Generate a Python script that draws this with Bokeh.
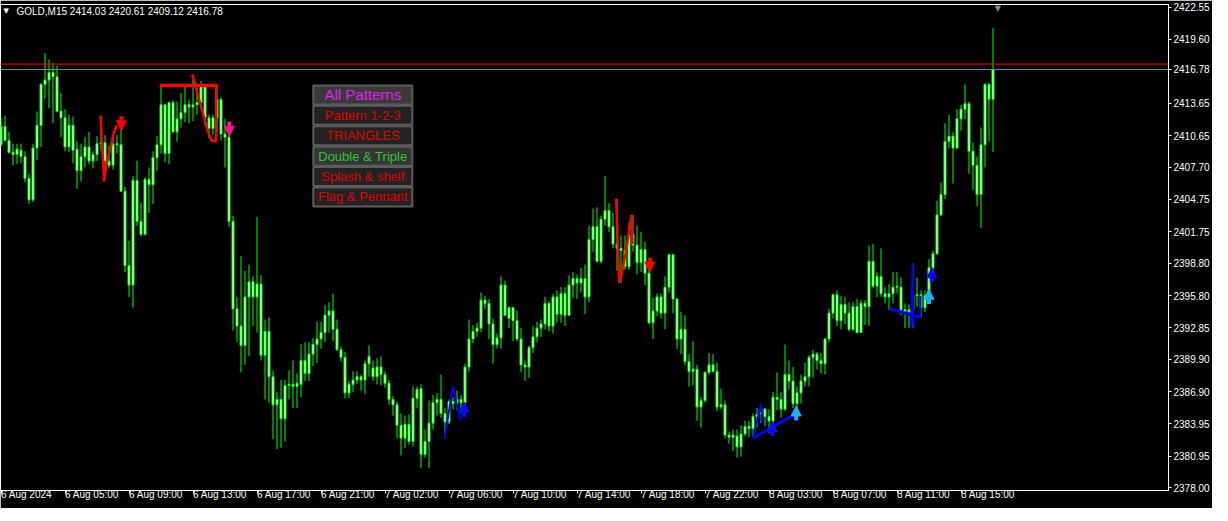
from bokeh.plotting import figure
from bokeh.models import (ColumnDataSource, FixedTicker, Span, Label, Arrow, NormalHead,
                          Range1d, PrintfTickFormatter)
from bokeh.embed import file_html
from bokeh.resources import INLINE
from bokeh.core.properties import value

# ---------------- data: GOLD M15, 249 bars starting 6 Aug 2024 01:00 ----------------
opens = [2409.8, 2411.5, 2410.2, 2409.1, 2408.9, 2409.3, 2408.7, 2406.7, 2404.7, 2409.5,
         2411.6, 2415.4, 2415.8, 2416.5, 2416.1, 2412.9, 2412.3, 2409.6, 2411.6, 2409.4,
         2407.4, 2408.7, 2409.6, 2408.3, 2408.9, 2409.9, 2410.0, 2408.3, 2407.9, 2409.9,
         2409.8, 2405.5, 2398.6, 2396.8, 2406.5, 2402.7, 2401.5, 2406.6, 2406.1, 2408.6,
         2409.8, 2413.5, 2409.0, 2413.7, 2411.0, 2412.2, 2412.8, 2413.5, 2413.3, 2413.5,
         2413.7, 2415.2, 2412.3, 2411.3, 2412.3, 2414.0, 2410.8, 2410.5, 2402.7, 2394.6,
         2393.0, 2391.2, 2395.7, 2397.1, 2395.7, 2396.9, 2390.3, 2392.5, 2388.3, 2385.7,
         2386.2, 2384.4, 2387.5, 2387.6, 2387.4, 2387.6, 2389.8, 2388.6, 2390.4, 2391.3,
         2391.8, 2392.4, 2394.0, 2394.4, 2392.7, 2390.8, 2390.1, 2386.8, 2387.6, 2388.0,
         2388.3, 2388.0, 2389.5, 2389.1, 2388.3, 2389.2, 2388.5, 2387.7, 2386.2, 2385.7,
         2383.8, 2382.6, 2383.9, 2382.3, 2386.3, 2387.2, 2381.1, 2382.3, 2384.0, 2385.9,
         2386.2, 2384.9, 2384.1, 2386.0, 2385.8, 2386.2, 2385.9, 2389.2, 2391.8, 2392.5,
         2392.8, 2395.4, 2395.1, 2393.2, 2391.3, 2391.9, 2396.8, 2393.7, 2394.7, 2393.5,
         2391.8, 2389.4, 2389.2, 2391.0, 2392.0, 2392.8, 2393.2, 2395.1, 2393.0, 2395.7,
         2394.1, 2396.0, 2394.0, 2396.8, 2397.4, 2397.0, 2397.4, 2395.7, 2401.0, 2402.2,
         2399.0, 2402.9, 2403.7, 2402.2, 2400.6, 2400.2, 2400.0, 2398.5, 2401.5, 2400.5,
         2398.9, 2400.1, 2397.9, 2393.3, 2394.4, 2395.7, 2394.2, 2396.6, 2399.6, 2395.5,
         2391.8, 2392.7, 2389.7, 2388.8, 2389.0, 2385.5, 2386.1, 2388.7, 2389.4, 2388.8,
         2385.5, 2385.7, 2382.9, 2382.7, 2382.8, 2381.8, 2383.0, 2383.7, 2383.5, 2384.6,
         2384.8, 2385.3, 2384.6, 2384.2, 2386.4, 2386.2, 2385.3, 2388.5, 2387.9, 2385.8,
         2386.8, 2387.9, 2388.3, 2390.1, 2390.4, 2389.8, 2389.5, 2391.8, 2394.2, 2395.9,
         2393.5, 2395.0, 2394.2, 2392.7, 2394.8, 2392.4, 2395.1, 2394.8, 2399.0, 2396.7,
         2397.6, 2396.0, 2395.7, 2396.0, 2396.6, 2396.6, 2394.5, 2394.3, 2394.5, 2395.8,
         2395.9, 2394.7, 2395.8, 2398.4, 2399.7, 2403.3, 2405.2, 2410.1, 2410.6, 2409.5,
         2412.2, 2413.1, 2413.6, 2409.2, 2407.9, 2405.2, 2409.8, 2415.4, 2414.03]
highs = [2412.3, 2412.5, 2411.0, 2409.9, 2409.9, 2409.9, 2409.2, 2407.1, 2409.9, 2412.9,
         2415.5, 2418.3, 2417.7, 2417.4, 2417.1, 2414.6, 2413.1, 2412.6, 2412.4, 2410.1,
         2409.9, 2410.5, 2411.0, 2409.2, 2410.6, 2412.5, 2410.7, 2409.7, 2410.4, 2410.7,
         2411.2, 2405.9, 2400.9, 2406.9, 2408.3, 2404.4, 2406.8, 2407.7, 2409.2, 2410.6,
         2415.4, 2413.6, 2413.8, 2413.9, 2413.8, 2414.6, 2415.4, 2414.0, 2416.3, 2415.2,
         2415.7, 2415.3, 2412.6, 2412.6, 2415.2, 2414.2, 2412.2, 2411.0, 2403.2, 2395.7,
         2399.5, 2398.1, 2398.7, 2397.6, 2403.1, 2397.7, 2393.6, 2393.8, 2388.9, 2386.9,
         2388.0, 2388.0, 2388.9, 2389.8, 2388.6, 2391.3, 2391.5, 2391.5, 2391.9, 2393.4,
         2393.4, 2394.9, 2395.2, 2396.0, 2393.6, 2391.1, 2390.6, 2387.9, 2388.8, 2388.8,
         2388.5, 2389.8, 2391.2, 2389.8, 2390.0, 2390.2, 2388.8, 2388.0, 2386.5, 2386.0,
         2384.9, 2384.7, 2384.8, 2387.4, 2387.4, 2387.6, 2383.4, 2386.1, 2386.6, 2386.8,
         2388.5, 2385.4, 2386.2, 2386.4, 2387.0, 2386.6, 2389.5, 2393.6, 2393.1, 2393.3,
         2396.1, 2395.8, 2395.5, 2393.7, 2392.3, 2397.6, 2397.2, 2394.8, 2394.8, 2394.4,
         2392.8, 2389.8, 2391.2, 2393.0, 2393.4, 2393.6, 2395.7, 2395.3, 2396.0, 2396.3,
         2396.6, 2396.6, 2397.7, 2398.0, 2397.8, 2398.4, 2398.7, 2402.3, 2403.9, 2404.0,
         2403.2, 2406.9, 2404.4, 2403.5, 2404.8, 2401.4, 2401.4, 2402.6, 2403.3, 2402.3,
         2401.7, 2400.8, 2398.6, 2395.6, 2396.0, 2396.0, 2397.6, 2399.7, 2399.7, 2395.6,
         2394.3, 2394.0, 2390.4, 2391.6, 2389.4, 2386.4, 2388.8, 2390.5, 2390.4, 2389.6,
         2387.2, 2386.1, 2383.2, 2383.4, 2383.4, 2383.8, 2384.2, 2384.2, 2384.9, 2385.4,
         2385.7, 2385.4, 2385.3, 2386.9, 2388.7, 2386.9, 2391.3, 2389.8, 2389.2, 2387.4,
         2388.5, 2389.6, 2390.3, 2390.8, 2390.6, 2390.5, 2391.9, 2394.6, 2396.0, 2396.3,
         2395.8, 2395.7, 2395.2, 2395.2, 2395.5, 2395.4, 2395.4, 2400.5, 2400.6, 2398.0,
         2400.2, 2396.6, 2396.9, 2398.0, 2398.0, 2397.5, 2395.1, 2395.0, 2398.8, 2397.5,
         2396.3, 2396.3, 2399.2, 2400.0, 2404.6, 2406.3, 2411.8, 2412.6, 2411.0, 2413.1,
         2413.5, 2415.4, 2413.8, 2410.0, 2408.7, 2411.4, 2415.5, 2415.5, 2420.61]
lows = [2409.6, 2410.1, 2409.0, 2407.9, 2408.0, 2408.1, 2406.3, 2404.3, 2404.5, 2408.4,
        2409.6, 2414.1, 2413.2, 2411.8, 2412.8, 2410.5, 2409.2, 2409.1, 2408.1, 2405.7,
        2406.4, 2407.7, 2408.0, 2407.6, 2408.3, 2409.3, 2407.5, 2407.6, 2407.5, 2409.0,
        2405.4, 2398.0, 2395.7, 2394.7, 2402.3, 2401.3, 2401.4, 2403.5, 2404.3, 2407.4,
        2409.0, 2408.2, 2408.0, 2410.9, 2410.1, 2411.4, 2411.9, 2411.8, 2412.0, 2412.6,
        2413.1, 2411.5, 2410.4, 2410.7, 2411.0, 2410.2, 2407.7, 2402.2, 2392.6, 2391.5,
        2388.7, 2389.4, 2390.2, 2393.0, 2392.4, 2389.8, 2386.2, 2385.9, 2382.5, 2381.6,
        2381.7, 2382.3, 2386.2, 2385.4, 2385.4, 2386.4, 2387.9, 2387.9, 2389.3, 2389.6,
        2390.9, 2391.5, 2392.4, 2391.6, 2390.7, 2389.7, 2386.3, 2386.3, 2386.9, 2387.6,
        2387.0, 2386.7, 2388.3, 2387.9, 2387.6, 2387.5, 2387.3, 2385.7, 2384.7, 2382.6,
        2381.0, 2381.7, 2382.0, 2381.8, 2385.4, 2379.8, 2380.8, 2379.8, 2383.4, 2384.7,
        2384.5, 2382.6, 2383.9, 2385.3, 2385.2, 2384.9, 2385.7, 2388.7, 2391.4, 2392.0,
        2392.4, 2394.6, 2391.8, 2389.5, 2390.9, 2390.9, 2393.9, 2392.8, 2391.6, 2391.6,
        2388.7, 2387.9, 2388.2, 2390.5, 2391.5, 2392.0, 2392.7, 2392.5, 2392.3, 2393.3,
        2393.3, 2393.0, 2393.9, 2395.6, 2395.5, 2396.1, 2394.1, 2395.2, 2399.9, 2398.9,
        2398.8, 2402.3, 2401.7, 2400.2, 2398.1, 2397.0, 2398.2, 2398.2, 2399.9, 2397.8,
        2398.0, 2396.8, 2393.2, 2391.8, 2393.9, 2393.7, 2392.7, 2396.1, 2394.2, 2390.9,
        2390.4, 2389.4, 2387.4, 2387.5, 2384.2, 2383.6, 2385.9, 2388.5, 2388.7, 2385.1,
        2385.3, 2382.6, 2382.1, 2381.4, 2380.8, 2380.9, 2382.8, 2382.7, 2382.6, 2383.6,
        2384.0, 2383.7, 2383.1, 2383.8, 2385.2, 2384.5, 2385.1, 2387.1, 2385.4, 2385.0,
        2385.8, 2387.4, 2387.4, 2388.2, 2389.0, 2388.6, 2388.5, 2391.5, 2393.7, 2393.0,
        2392.7, 2393.2, 2392.5, 2392.5, 2392.3, 2392.4, 2393.1, 2393.0, 2396.5, 2395.7,
        2395.7, 2395.1, 2394.5, 2395.1, 2396.0, 2394.0, 2392.8, 2392.8, 2392.8, 2394.8,
        2393.8, 2394.3, 2395.6, 2397.5, 2399.6, 2403.2, 2404.8, 2409.5, 2406.2, 2409.4,
        2411.1, 2412.2, 2407.1, 2405.6, 2404.1, 2402.1, 2407.7, 2410.1, 2409.12]
closes = [2411.5, 2410.2, 2409.1, 2408.9, 2409.4, 2408.7, 2406.7, 2404.7, 2409.5, 2411.6,
          2415.4, 2415.8, 2416.5, 2416.1, 2412.9, 2412.3, 2409.6, 2411.6, 2409.3, 2407.4,
          2408.7, 2409.6, 2408.3, 2408.9, 2409.9, 2410.0, 2408.3, 2407.9, 2409.9, 2409.8,
          2405.5, 2398.6, 2396.8, 2406.5, 2402.7, 2401.5, 2406.6, 2406.1, 2408.6, 2409.8,
          2413.5, 2409.0, 2413.7, 2411.0, 2412.2, 2412.8, 2413.5, 2413.3, 2413.5, 2413.7,
          2415.2, 2412.3, 2411.3, 2412.3, 2414.0, 2410.8, 2410.5, 2402.7, 2394.6, 2393.0,
          2391.2, 2395.7, 2397.1, 2395.7, 2396.9, 2390.3, 2392.5, 2388.3, 2385.7, 2386.2,
          2384.4, 2387.5, 2387.6, 2387.4, 2387.7, 2389.8, 2388.6, 2390.4, 2391.3, 2391.8,
          2392.4, 2394.0, 2394.4, 2392.7, 2390.8, 2390.1, 2386.8, 2387.6, 2388.0, 2388.3,
          2388.0, 2389.5, 2390.2, 2388.3, 2389.2, 2388.5, 2387.7, 2386.2, 2385.7, 2383.8,
          2382.6, 2383.9, 2382.3, 2386.3, 2387.1, 2381.1, 2382.3, 2384.0, 2385.9, 2386.2,
          2384.9, 2384.1, 2386.0, 2385.8, 2386.2, 2385.9, 2389.2, 2391.8, 2392.5, 2392.8,
          2395.4, 2395.1, 2393.2, 2391.3, 2391.9, 2396.8, 2394.0, 2394.7, 2393.5, 2391.8,
          2389.4, 2389.2, 2391.0, 2392.0, 2392.8, 2393.2, 2395.1, 2393.0, 2395.7, 2394.1,
          2396.0, 2394.0, 2396.8, 2397.4, 2397.0, 2397.4, 2395.7, 2401.0, 2402.2, 2399.0,
          2402.9, 2403.7, 2402.2, 2400.6, 2400.2, 2400.0, 2398.5, 2401.5, 2400.5, 2398.9,
          2400.1, 2397.9, 2393.3, 2394.4, 2395.7, 2394.2, 2396.6, 2399.6, 2395.5, 2391.8,
          2392.7, 2389.7, 2388.8, 2389.0, 2385.5, 2386.1, 2388.7, 2389.4, 2388.8, 2385.5,
          2385.7, 2382.9, 2382.7, 2382.9, 2381.8, 2383.0, 2383.7, 2383.5, 2384.6, 2384.8,
          2385.3, 2384.6, 2384.2, 2386.4, 2386.2, 2385.3, 2388.5, 2387.9, 2385.8, 2386.8,
          2387.9, 2388.3, 2390.1, 2390.4, 2389.8, 2389.5, 2391.8, 2394.2, 2395.9, 2393.5,
          2395.0, 2394.2, 2392.7, 2394.8, 2392.4, 2395.1, 2394.8, 2399.0, 2396.7, 2397.6,
          2396.0, 2395.7, 2396.0, 2396.6, 2396.7, 2394.5, 2394.3, 2394.5, 2395.8, 2395.9,
          2394.7, 2395.8, 2398.4, 2399.7, 2403.3, 2405.2, 2410.1, 2410.6, 2409.5, 2412.2,
          2413.1, 2413.6, 2409.2, 2407.9, 2405.2, 2409.8, 2415.4, 2414.03, 2416.78]

x_ticks = [0, 16, 32, 48, 64, 80, 96, 112, 128, 144, 160, 176, 192, 208, 224, 240]
x_tick_labels = ["6 Aug 2024", "6 Aug 05:00", "6 Aug 09:00", "6 Aug 13:00", "6 Aug 17:00",
                 "6 Aug 21:00", "7 Aug 02:00", "7 Aug 06:00", "7 Aug 10:00", "7 Aug 14:00",
                 "7 Aug 18:00", "7 Aug 22:00", "8 Aug 03:00", "8 Aug 07:00", "8 Aug 11:00",
                 "8 Aug 15:00"]
y_ticks = [2378.00, 2380.95, 2383.95, 2386.90, 2389.90, 2392.85, 2395.80, 2398.80,
           2401.75, 2404.75, 2407.70, 2410.65, 2413.65, 2419.60, 2422.55]

bid_price = 2416.78
ask_price = 2417.28
title_text = "GOLD,M15  2414.03 2420.61 2409.12 2416.78"

# pattern indicator drawings (bar index, price)
red_lines = [
    ([24.9, 25.3, 25.8, 26.2, 26.7, 27.4, 28.2, 28.9],
     [2412.5, 2409.5, 2406.4, 2407.7, 2408.6, 2409.5, 2410.9, 2411.6]),
    ([47.8, 48.6, 49.5, 50.3, 51.0, 51.8, 52.6, 53.8, 53.8],
     [2416.3, 2415.4, 2414.0, 2413.0, 2412.0, 2411.0, 2410.2, 2410.1, 2415.2]),
    ([153.8, 154.2, 154.6, 155.2, 156.5, 157.6, 157.9],
     [2404.8, 2400.5, 2397.0, 2397.8, 2400.5, 2403.3, 2400.6]),
]
red_thick = [([39.7, 54.2], [2415.3, 2415.3])]
blue_lines = [
    ([110.9, 113.0, 114.2, 114.9], [2382.6, 2387.4, 2385.3, 2384.3]),
    ([188.0, 190.0, 190.3], [2382.6, 2385.75, 2384.0]),
    ([227.6, 227.9, 228.2], [2393.0, 2398.8, 2392.8]),
    ([229.8, 229.9], [2393.8, 2395.8]),
]
blue_thick = [
    ([188.0, 197.9], [2382.6, 2384.7]),
    ([222.1, 230.0], [2394.6, 2393.8]),
]
arrow_x = [30.1, 57.1, 162.2, 115.8, 192.8, 198.8, 232.0, 232.7]
arrow_tip = [2411.1, 2410.6, 2398.0, 2385.95, 2384.15, 2385.6, 2396.4, 2398.4]
arrow_dir = [-1, -1, -1, 1, 1, 1, 1, 1]
arrow_color = ["#ff0000", "#ff1493", "#ff0000", "#0a0aff", "#0a0aff", "#1ab2ff", "#1ab2ff", "#0a0aff"]

btn_labels = ["All Patterns", "Pattern 1-2-3", "TRIANGLES", "Double & Triple",
              "Splash & shelf", "Flag & Pennant"]
btn_text_colors = ["#e11ef0", "#e00000", "#e00000", "#33c233", "#e00000", "#e00000"]
btn_faces = ["#3a3a3a", "#232323", "#232323", "#363636", "#232323", "#232323"]
btn_font_sizes = ["15px", "13px", "13px", "13px", "13px", "13px"]

# ---------------- layout helpers (reference pixel -> data) ----------------
def ref_x(px):
    return (px - 3.2) / 4.0

def ref_y(py):
    return 2378.0 + (499.3 - py) / 11.1

FW, FH = 1168, 486            # frame size in px (4 px per bar)
X0 = -0.125
X1 = X0 + FW / 4.0
Y0, Y1 = ref_y(502.0), ref_y(2.0)

p = figure(frame_width=FW, frame_height=FH, output_backend="svg", toolbar_location=None,
           x_range=Range1d(X0, X1), y_range=Range1d(Y0, Y1),
           background_fill_color="black", border_fill_color="black",
           min_border_left=0, min_border_top=4, min_border_right=0, min_border_bottom=0,
           y_axis_location="right")
p.xgrid.visible = False
p.ygrid.visible = False
p.outline_line_color = "white"
p.outline_line_width = 1

for ax in (p.xaxis[0], p.yaxis[0]):
    ax.axis_line_color = "white"
    ax.major_tick_line_color = "white"
    ax.minor_tick_line_color = None
    ax.major_tick_in = 0
    ax.major_tick_out = 3
    ax.major_label_text_color = "white"
    ax.major_label_text_font = "Liberation Sans"
    ax.major_label_text_font_size = "10px"
    ax.major_label_standoff = 2
p.xaxis.ticker = FixedTicker(ticks=x_ticks)
p.xaxis.major_label_overrides = {t: s for t, s in zip(x_ticks, x_tick_labels)}
p.xaxis.major_label_orientation = -0.0001   # tiny negative angle -> left aligned at tick
p.xaxis.major_label_standoff = 1
p.yaxis.ticker = FixedTicker(ticks=y_ticks + [bid_price])
p.yaxis.formatter = PrintfTickFormatter(format="%.2f")

# ---------------- candles ----------------
idx = list(range(len(closes)))
src = ColumnDataSource(dict(
    x=idx, open=opens, high=highs, low=lows, close=closes,
    top=[max(o, c) for o, c in zip(opens, closes)],
    bottom=[min(o, c) for o, c in zip(opens, closes)],
))
p.segment(x0="x", y0="low", x1="x", y1="high", source=src, line_color="#00ff00", line_width=1)
p.vbar(x="x", top="top", bottom="bottom", width=0.5, source=src,
       fill_color="white", line_color="#00ff00", line_width=1)

# ---------------- pattern drawings ----------------
for xs, ys in red_lines:
    p.line(xs, ys, line_color="#ff0000", line_width=2.5)
for xs, ys in red_thick:
    p.line(xs, ys, line_color="#ff0000", line_width=3.5)
for xs, ys in blue_lines:
    p.line(xs, ys, line_color="#0000ff", line_width=2)
for xs, ys in blue_thick:
    p.line(xs, ys, line_color="#0000ff", line_width=3)

arrow_len = 1.35  # price units (~14 px)
for ax_, tip, d, col in zip(arrow_x, arrow_tip, arrow_dir, arrow_color):
    p.add_layout(Arrow(end=NormalHead(size=10, fill_color=col, line_color=col),
                       x_start=ax_, y_start=tip - d * arrow_len, x_end=ax_, y_end=tip,
                       line_color=col, line_width=4))

# ---------------- price lines ----------------
p.add_layout(Span(location=ask_price, dimension="width", line_color="#ff0000", line_width=1))
p.add_layout(Span(location=bid_price, dimension="width", line_color="#778899", line_width=1))

# ---------------- header ----------------
p.add_layout(Label(x=X0, y=Y1, x_offset=3, y_offset=-2, text="▼",
                   text_font="DejaVu Sans", text_font_size="7px",
                   text_color="white", text_baseline="top"))
p.add_layout(Label(x=X0, y=Y1, x_offset=16, y_offset=-1, text=title_text,
                   text_font="Liberation Sans", text_font_size="10px",
                   text_color="white", text_baseline="top"))
p.add_layout(Label(x=idx[-1] + 1.2, y=Y1, y_offset=1, text="▼",
                   text_font="DejaVu Sans", text_font_size="8px",
                   text_color="#8c8c8c", text_baseline="top", text_align="center"))

# ---------------- pattern buttons ----------------
btn_rows = [95 + 21 * k for k in range(len(btn_labels))]
bsrc = ColumnDataSource(dict(
    x=[ref_x(365)] * len(btn_labels),
    y=[ref_y(r) for r in btn_rows],
    label=btn_labels, tcolor=btn_text_colors, face=btn_faces, fsize=btn_font_sizes,
))
p.rect(x="x", y="y", width=99, height=19, width_units="screen", height_units="screen",
       source=bsrc, fill_color="face", line_color="#5c5c5c", line_width=2)
p.text(x="x", y="y", text="label", source=bsrc, text_color="tcolor",
       text_font=value("Liberation Sans"), text_font_size="fsize",
       text_align="center", text_baseline="middle")

open("out.html", "w").write(file_html(p, INLINE))
